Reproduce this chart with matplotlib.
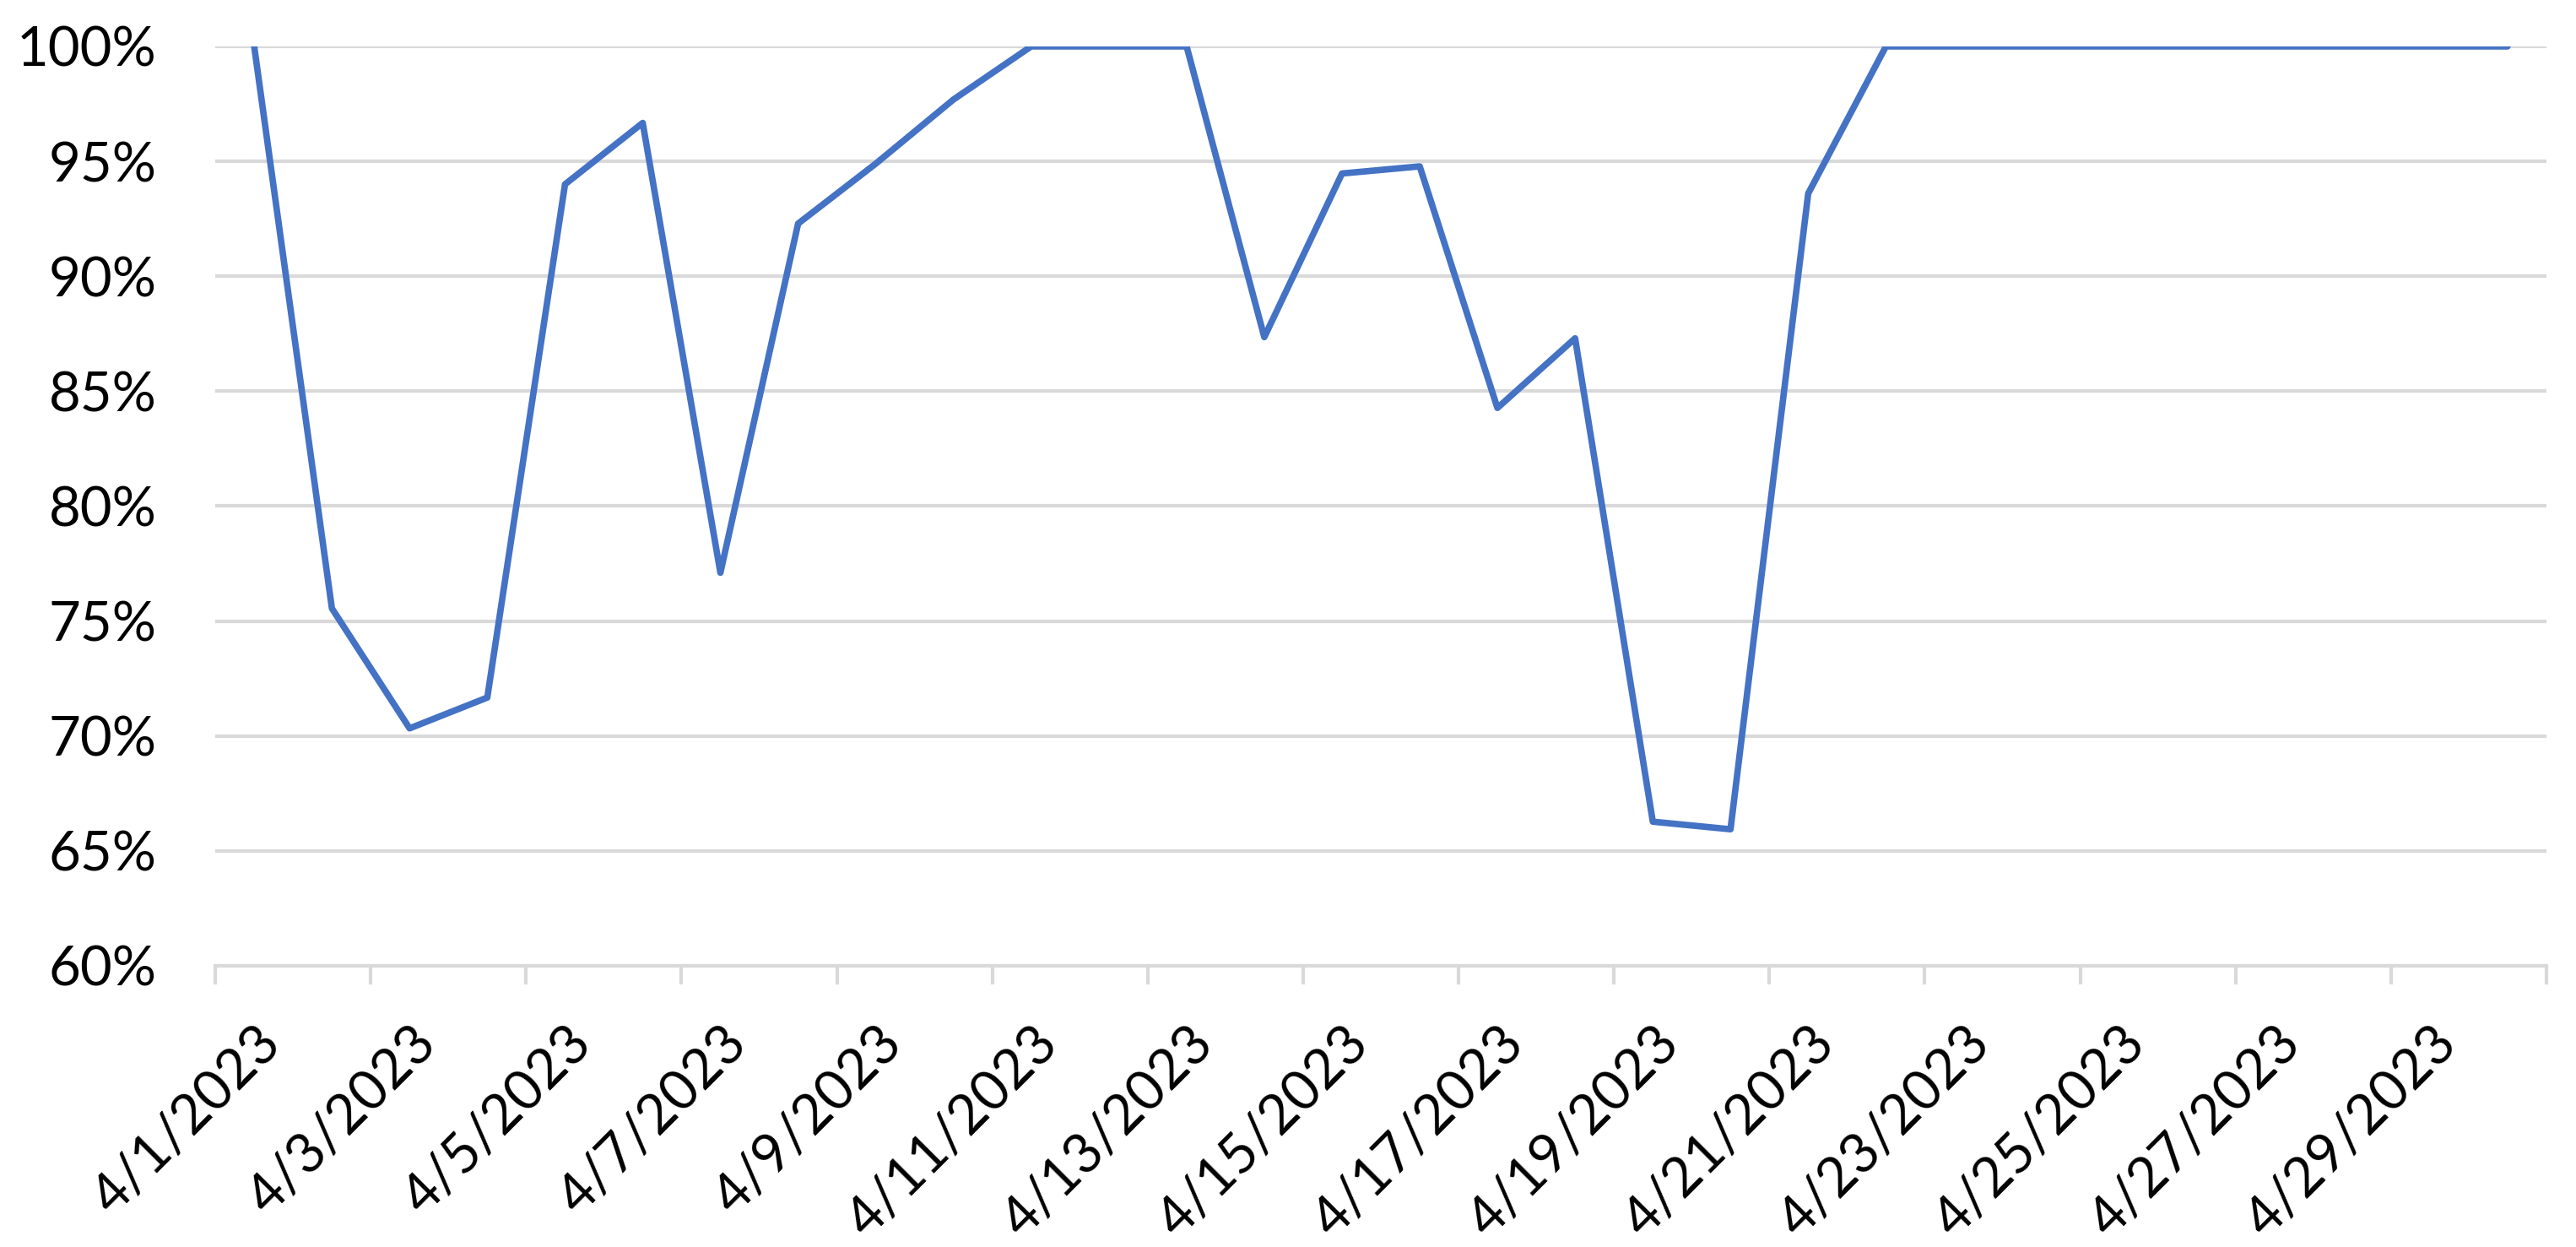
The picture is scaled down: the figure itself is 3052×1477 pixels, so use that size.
import numpy as np
import matplotlib.pyplot as plt
from matplotlib.ticker import PercentFormatter

# Data
days = [f"4/{d}/2023" for d in range(1, 31)]
pct = [1.000, 0.7555, 0.7033, 0.7167, 0.9400, 0.9667, 0.7710, 0.9229,
       0.9490, 0.9769, 1.000, 1.000, 1.000, 0.8735, 0.9447, 0.9478,
       0.8427, 0.8730, 0.6627, 0.6594, 0.9360, 1.000, 1.000, 1.000,
       1.000, 1.000, 1.000, 1.000, 1.000, 1.000]

plt.rcParams['font.family'] = ['Lato', 'DejaVu Sans']

fig = plt.figure(figsize=(30.52, 14.77), dpi=100, facecolor='white')
ax = fig.add_axes([0.0836, 0.2255, 0.9049, 0.7373])

x = np.arange(len(days))
ax.plot(x, pct, color='#4472C4', linewidth=5.5, solid_joinstyle='round',
        solid_capstyle='round', zorder=3)

grid_c = '#D9D9D9'

# y axis
ax.set_ylim(0.6, 1.0)
ax.set_yticks(np.arange(0.6, 1.0001, 0.05))
ax.yaxis.set_major_formatter(PercentFormatter(1.0, decimals=0))
ax.grid(axis='y', color=grid_c, linewidth=3, zorder=0)
ax.tick_params(axis='y', length=0, pad=50, labelsize=47)

# x axis: tick marks at every other category boundary, labels at centres
ax.set_xlim(-0.5, len(days) - 0.5)
ax.set_xticks(np.arange(-0.5, len(days), 2))
ax.set_xticklabels([])
ax.tick_params(axis='x', which='major', length=16, width=3, color=grid_c,
               direction='out')
ax.set_xticks(x[::2], minor=True)
ax.set_xticklabels(days[::2], minor=True)
ax.tick_params(axis='x', which='minor', length=0, pad=44, labelsize=47)
plt.setp(ax.get_xticklabels(minor=True), rotation=45, ha='right',
         rotation_mode='anchor')

for s in ['top', 'right', 'left']:
    ax.spines[s].set_visible(False)
ax.spines['bottom'].set_color(grid_c)
ax.spines['bottom'].set_linewidth(3)

fig.savefig('out.png', dpi=100, facecolor='white')
